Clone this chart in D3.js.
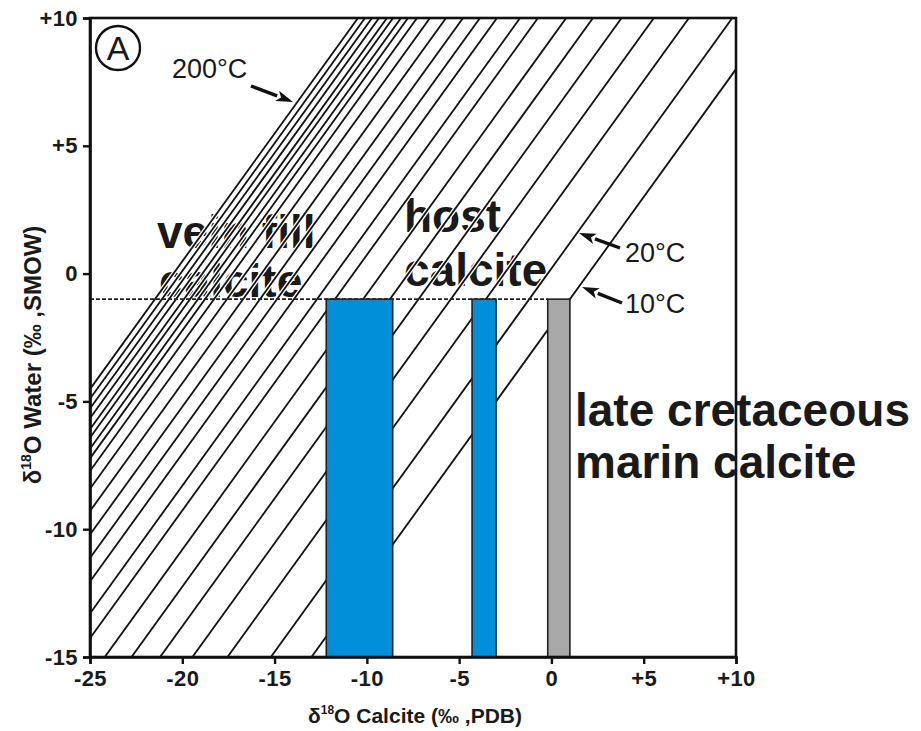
<!DOCTYPE html>
<html><head><meta charset="utf-8">
<script src="https://cdn.jsdelivr.net/npm/d3@7"></script>
<style>
body{margin:0;background:#fff}
text{font-family:"Liberation Sans",Arial,Helvetica,sans-serif}
</style>
</head><body><svg id="chart" width="921" height="731"></svg>
<script>
// ---- data ----
const xTicks = [-25, -20, -15, -10, -5, 0, 5, 10];
const xTickLabels = ["-25", "-20", "-15", "-10", "-5", "0", "+5", "+10"];
const yTicks = [-15, -10, -5, 0, 5, 10];
const yTickLabels = ["-15", "-10", "-5", "0", "+5", "+10"];
// isotherms: δ18O water = δ18O calcite + offset (hottest 200°C first, coldest 10°C last)
const isothermOffsets = [20.48, 20.10, 19.72, 19.34, 18.91, 18.58, 18.15, 17.77, 17.28, 16.58,
                         15.71, 14.79, 13.87, 12.95, 11.70, 10.73, 9.20, 7.75, 6.20, 4.45, 2.55, 0.20, -2.00];
const barNames  = ["vein fill calcite", "host calcite", "late cretaceous marin calcite"];
const barStart  = [-12.2, -4.3, -0.2];
const barEnd    = [-8.6, -3.0, 1.0];
const barColors = ["#0090da", "#0090da", "#a8a8a8"];
const barBottom = -15, barTop = -1;
const waterLine = -1;

// ---- layout ----
const svg = d3.select("#chart");
const L = 90, R = 736, T = 18, B = 657;
const x = d3.scaleLinear().domain([-25, 10]).range([L, R]);
const y = d3.scaleLinear().domain([-15, 10]).range([B, T]);

svg.append("defs").append("clipPath").attr("id", "plotclip")
  .append("rect").attr("x", L).attr("y", T).attr("width", R - L).attr("height", B - T);

// ---- labels under the hatching ----
const big = svg.append("g").attr("font-weight", "bold").attr("font-size", 46).attr("fill", "#1a1a1a");
big.append("text").attr("x", 157).attr("y", 248).text("vein fill");
big.append("text").attr("x", 159).attr("y", 297).text("calcite");
big.append("text").attr("x", 404).attr("y", 232).text("host");
big.append("text").attr("x", 404).attr("y", 286).text("calcite");

// ---- isotherm lines ----
const gl = svg.append("g").attr("clip-path", "url(#plotclip)");
const seg = c => [[x(-25), y(-25 + c)], [x(10), y(10 + c)]];
gl.selectAll("line.case").data(isothermOffsets).join("line").attr("class", "case")
  .attr("x1", c => seg(c)[0][0]).attr("y1", c => seg(c)[0][1])
  .attr("x2", c => seg(c)[1][0]).attr("y2", c => seg(c)[1][1])
  .attr("stroke", "#fff").attr("stroke-width", 4.5);
gl.selectAll("line.iso").data(isothermOffsets).join("line").attr("class", "iso")
  .attr("x1", c => seg(c)[0][0]).attr("y1", c => seg(c)[0][1])
  .attr("x2", c => seg(c)[1][0]).attr("y2", c => seg(c)[1][1])
  .attr("stroke", "#111").attr("stroke-width", 1.8);

// ---- dashed water line ----
svg.append("line")
  .attr("x1", x(-25)).attr("x2", x(barStart[2])).attr("y1", y(waterLine)).attr("y2", y(waterLine))
  .attr("stroke", "#222").attr("stroke-width", 1.8).attr("stroke-dasharray", "4,2");

// ---- bars ----
svg.selectAll("rect.bar").data(barNames).join("rect").attr("class", "bar")
  .attr("x", (d, i) => x(barStart[i]))
  .attr("width", (d, i) => x(barEnd[i]) - x(barStart[i]))
  .attr("y", y(barTop)).attr("height", y(barBottom) - y(barTop))
  .attr("fill", (d, i) => barColors[i]).attr("stroke", "#222").attr("stroke-width", 1.6);

// ---- frame and axes ----
svg.append("rect").attr("x", L).attr("y", T).attr("width", R - L).attr("height", B - T)
  .attr("fill", "none").attr("stroke", "#111").attr("stroke-width", 2.6);

const xAxis = svg.append("g").attr("transform", `translate(0,${B})`)
  .call(d3.axisBottom(x).tickValues(xTicks).tickSize(7).tickPadding(6)
    .tickFormat((d, i) => xTickLabels[i]));
const yAxis = svg.append("g").attr("transform", `translate(${L},0)`)
  .call(d3.axisLeft(y).tickValues(yTicks).tickSize(7).tickPadding(5)
    .tickFormat((d, i) => yTickLabels[i]));
[xAxis, yAxis].forEach(a => {
  a.select(".domain").attr("stroke", "#111").attr("stroke-width", 2.6);
  a.selectAll(".tick line").attr("stroke", "#111").attr("stroke-width", 2.4);
  a.selectAll(".tick text").attr("font-size", 22).attr("font-weight", "bold").attr("fill", "#1a1a1a")
    .attr("letter-spacing", 0.4)
    .attr("font-family", '"Liberation Sans",Arial,sans-serif');
});

// ---- axis titles ----
const xt = svg.append("text").attr("x", 415).attr("y", 723).attr("text-anchor", "middle")
  .attr("font-size", 21).attr("font-weight", "bold").attr("fill", "#1a1a1a");
xt.append("tspan").text("δ");
xt.append("tspan").attr("dy", -9).attr("font-size", 12).text("18");
xt.append("tspan").attr("dy", 9).text("O Calcite (‰ ,PDB)");

const yt = svg.append("text").attr("transform", "translate(41,355) rotate(-90)").attr("text-anchor", "middle")
  .attr("font-size", 24).attr("font-weight", "bold").attr("fill", "#1a1a1a");
yt.append("tspan").text("δ");
yt.append("tspan").attr("dy", -10).attr("font-size", 14).text("18");
yt.append("tspan").attr("dy", 10).text("O Water (‰ ,SMOW)");

// ---- "late cretaceous marin calcite" ----
const lc = svg.append("g").attr("font-weight", "bold").attr("font-size", 46).attr("fill", "#1a1a1a");
lc.append("text").attr("x", 575).attr("y", 426).text("late cretaceous");
lc.append("text").attr("x", 575).attr("y", 478).text("marin calcite");

// ---- temperature labels and arrows ----
const tl = svg.append("g").attr("font-size", 27).attr("fill", "#1a1a1a");
tl.append("text").attr("x", 172).attr("y", 78).text("200°C");
tl.append("text").attr("x", 625).attr("y", 262).text("20°C");
tl.append("text").attr("x", 625).attr("y", 313).text("10°C");

function arrow(x1, y1, x2, y2) {
  const a = Math.atan2(y2 - y1, x2 - x1), hl = 17, hw = 5.5;
  const bx = x2 - hl * Math.cos(a), by = y2 - hl * Math.sin(a);
  svg.append("line").attr("x1", x1).attr("y1", y1).attr("x2", bx).attr("y2", by)
    .attr("stroke", "#111").attr("stroke-width", 3.4);
  const px = -Math.sin(a), py = Math.cos(a);
  svg.append("path").attr("d", `M${x2},${y2}L${bx + px * hw},${by + py * hw}L${bx + hl*0.25*Math.cos(a)},${by + hl*0.25*Math.sin(a)}L${bx - px * hw},${by - py * hw}Z`)
    .attr("fill", "#111");
}
arrow(251, 86, 293, 102);
arrow(620, 248, 579, 233);
arrow(622, 303, 582, 287);

// ---- panel letter ----
svg.append("circle").attr("cx", 118).attr("cy", 48).attr("r", 22)
  .attr("fill", "none").attr("stroke", "#111").attr("stroke-width", 2.4);
svg.append("text").attr("x", 118).attr("y", 60).attr("text-anchor", "middle")
  .attr("font-size", 34).attr("fill", "#1a1a1a").text("A");
</script></body></html>
